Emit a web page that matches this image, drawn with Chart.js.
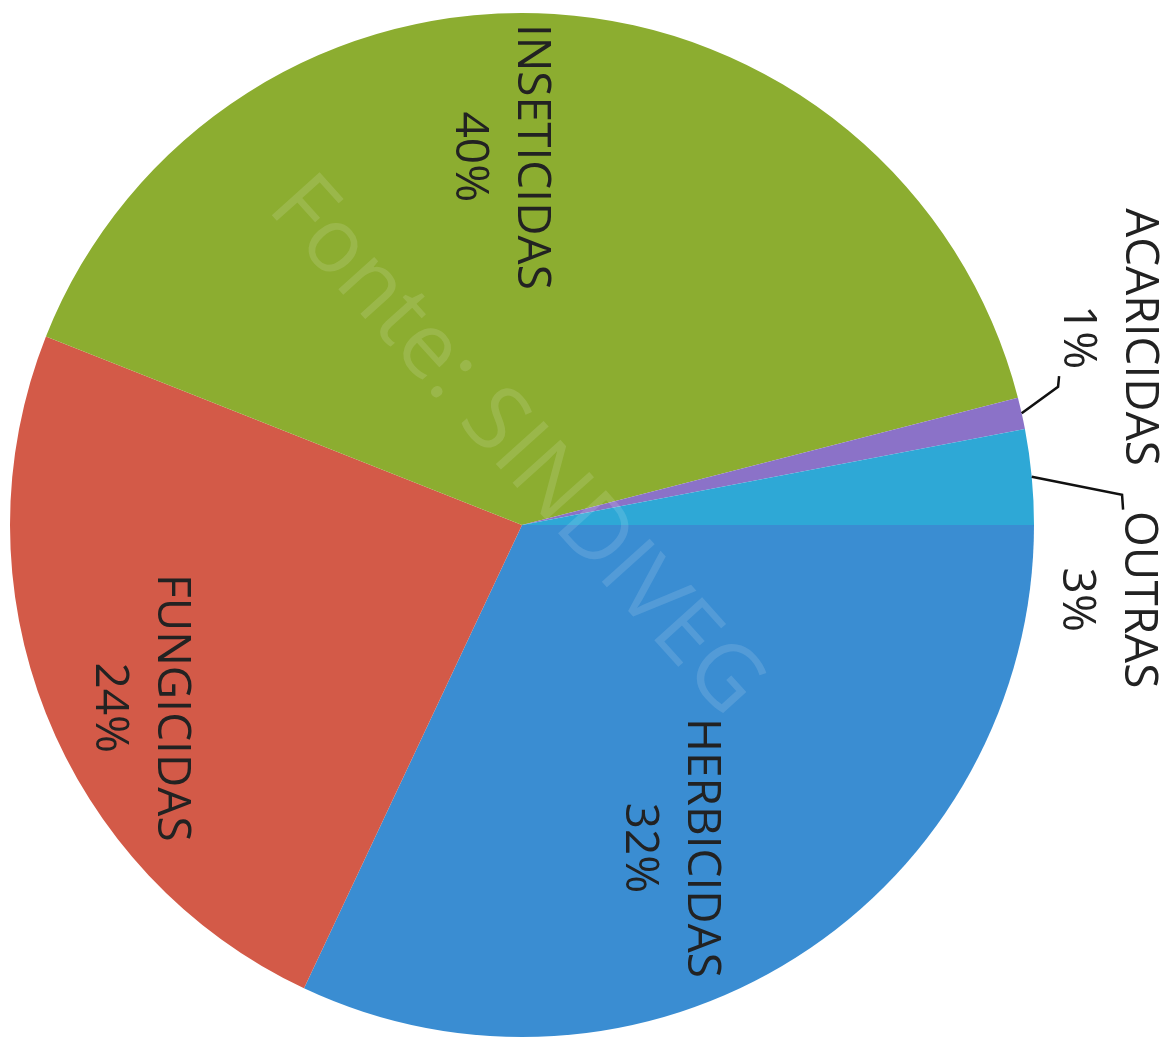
<!DOCTYPE html>
<html>
<head>
<meta charset="utf-8">
<script src="https://cdn.jsdelivr.net/npm/chart.js@4/dist/chart.umd.min.js"></script>
<style>
  html, body { margin: 0; padding: 0; background: #fff; overflow: hidden; }
  #wrap { position: absolute; left: 0; top: 0; width: 1168px; height: 1050px; }
</style>
</head>
<body>
<div id="wrap"><canvas id="pieChart"></canvas></div>
<script>
  // Data (percent share by class)
  const categories = ['HERBICIDAS', 'FUNGICIDAS', 'INSETICIDAS', 'ACARICIDAS', 'OUTRAS'];
  const shares = [32, 24, 40, 1, 3];
  const sliceColors = ['#3a8dd2', '#d35a48', '#8cad30', '#8b72c8', '#2ea8d6'];

  // label block centre, in units of the pie radius from its centre
  const labelOffsets = [[0.289, 0.631], [-0.746, 0.357], [-0.043, -0.719], [1.145, -0.367], [1.143, 0.146]];
  // leader lines for outside labels: elbow and tick end (radius units), null = none
  const leaders = [null, null, null, [[1.047, -0.270], [1.049, -0.291]], [[1.172, -0.059], [1.174, -0.030]]];

  const total = shares.reduce((a, b) => a + b, 0);

  const rotatedLabels = {
    id: 'rotatedLabels',
    afterDraw(chart) {
      const ctx = chart.ctx;
      const arcs = chart.getDatasetMeta(0).data;
      const first = arcs[0];
      const cx = first.x, cy = first.y, R = first.outerRadius;

      // faint watermark
      ctx.save();
      ctx.translate(cx - 7, cy - 78);
      ctx.rotate(48 * Math.PI / 180);
      ctx.font = '90px "Open Sans"';
      ctx.fillStyle = 'rgba(255,255,255,0.13)';
      ctx.textAlign = 'center';
      ctx.textBaseline = 'middle';
      ctx.fillText('Fonte: SINDIVEG', 0, 0);
      ctx.restore();

      arcs.forEach((arc, i) => {
        // leader line from the arc edge
        if (leaders[i]) {
          const mid = (arc.startAngle + arc.endAngle) / 2;
          ctx.save();
          ctx.strokeStyle = '#111';
          ctx.lineWidth = 2.5;
          ctx.beginPath();
          ctx.moveTo(cx + Math.cos(mid) * R, cy + Math.sin(mid) * R);
          leaders[i].forEach(p => ctx.lineTo(cx + p[0] * R, cy + p[1] * R));
          ctx.stroke();
          ctx.restore();
        }

        // label text, turned 90 degrees like the scan
        const pct = Math.round(shares[i] / total * 100) + '%';
        ctx.save();
        ctx.translate(cx + labelOffsets[i][0] * R, cy + labelOffsets[i][1] * R);
        ctx.rotate(Math.PI / 2);
        ctx.font = '46px "Open Sans"';
        ctx.fillStyle = '#222';
        ctx.textAlign = 'center';
        ctx.textBaseline = 'middle';
        ctx.fillText(categories[i], 0, -31);
        ctx.fillText(pct, 0, 31);
        ctx.restore();
      });
    }
  };

  const ctxPie = document.getElementById('pieChart').getContext('2d');
  const pieChart = new Chart(ctxPie, {
    type: 'pie',
    data: {
      labels: categories,
      datasets: [{
        data: shares,
        backgroundColor: sliceColors,
        borderWidth: 0
      }]
    },
    options: {
      responsive: true,
      maintainAspectRatio: false,
      animation: false,
      rotation: 90,
      layout: { padding: { left: 10, right: 134, top: 13, bottom: 13 } },
      plugins: {
        legend: { display: false },
        tooltip: { enabled: false }
      }
    },
    plugins: [rotatedLabels]
  });
</script>
</body>
</html>
